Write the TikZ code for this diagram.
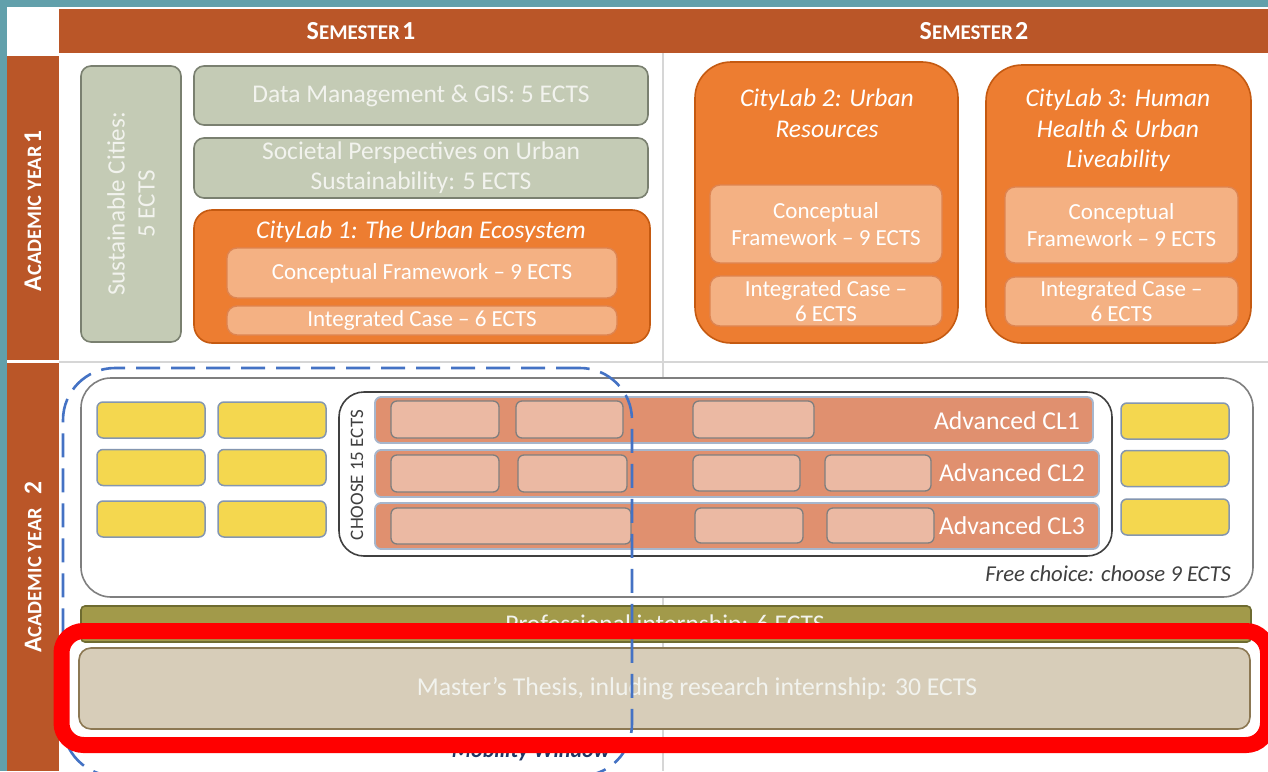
\documentclass[tikz,border=0pt]{standalone}
\usepackage{fontspec}
\setmainfont{Carlito}
\definecolor{tealbg}{HTML}{62A0AB}
\definecolor{hdr}{HTML}{BA5628}
\definecolor{sageF}{HTML}{C4CBB5}
\definecolor{sageD}{HTML}{7A8070}
\definecolor{sageT}{HTML}{F2F3EE}
\definecolor{orF}{HTML}{ED7D31}
\definecolor{orD}{HTML}{C55A11}
\definecolor{ltF}{HTML}{F4B183}
\definecolor{ltD}{HTML}{DE8450}
\definecolor{rowF}{HTML}{E0906F}
\definecolor{rowD}{HTML}{A7B6CC}
\definecolor{inF}{HTML}{EBB9A3}
\definecolor{inD}{HTML}{7F7F7F}
\definecolor{yF}{HTML}{F4D74F}
\definecolor{yD}{HTML}{8496B0}
\definecolor{olF}{HTML}{A29A4A}
\definecolor{olD}{HTML}{6E6B30}
\definecolor{thF}{HTML}{D7CDB9}
\definecolor{thD}{HTML}{8C7853}
\definecolor{mob}{HTML}{4472C4}
\definecolor{mobT}{HTML}{1F3864}
\definecolor{gridc}{HTML}{D6D6D6}
\definecolor{darkT}{HTML}{404040}
\newcommand{\myfs}[2]{\fontsize{#1}{#2}\selectfont}
\newcommand{\hdrsc}[2]{{\myfs{26}{28}#1}{\myfs{21}{28}#2}}
\newcommand{\sidesc}[2]{{\myfs{25.5}{28}#1}{\myfs{20.5}{28}#2}}
\tikzset{
  every node/.style={inner sep=0pt, outer sep=0pt},
  sagebox/.style={draw=sageD, fill=sageF, line width=1.6pt, rounded corners=10pt, text=sageT, font=\myfs{25.5}{30}, align=center},
  orbox/.style={draw=orD, fill=orF, line width=1.6pt},
  ttl/.style={text=white, font=\myfs{25.5}{30.5}\itshape, align=center},
  ltbox/.style={draw=ltD, fill=ltF, line width=1.4pt, rounded corners=10pt, text=white, font=\myfs{23}{27}, align=center},
  advrow/.style={draw=rowD, fill=rowF, line width=1.8pt, rounded corners=6pt},
  advin/.style={draw=inD, fill=inF, line width=1.3pt, rounded corners=6pt},
  advlbl/.style={text=white, font=\myfs{25.7}{28}, anchor=east},
  ybox/.style={draw=yD, fill=yF, line width=1.5pt, rounded corners=6pt, minimum width=108pt, minimum height=36pt},
  hdrtxt/.style={text=white, font=\bfseries},
}
\begin{document}
\begin{tikzpicture}[x=1pt,y=-1pt]
\useasboundingbox (0,0) rectangle (1268,771);
\clip (0,0) rectangle (1268,771);
% background
\fill[tealbg] (0,0) rectangle (1268,771);
\fill[white] (7,7) rectangle (1268,771);
% grid lines
\draw[gridc, line width=1.2pt] (59,362) -- (1268,362);
\draw[gridc, line width=1.2pt] (663,53) -- (663,771);
% header and side bars
\node[fill=hdr, minimum width=1209pt, minimum height=44pt] (hdr) at (663.5,31) {};
\node[hdrtxt] (sem1) at (361,31) {\hdrsc{S}{EMESTER} \hdrsc{1}{}};
\node[hdrtxt] (sem2) at (974,31) {\hdrsc{S}{EMESTER} \hdrsc{2}{}};
\node[fill=hdr, minimum width=52pt, minimum height=304pt] (yr1) at (33,208) {};
\node[hdrtxt, rotate=90] (yr1t) at (33,211) {\sidesc{A}{CADEMIC YEAR} \sidesc{1}{}};
\node[fill=hdr, minimum width=52pt, minimum height=408pt] (yr2) at (33,567) {};
\node[hdrtxt, rotate=90] (yr2t) at (33,567) {\sidesc{A}{CADEMIC YEAR}\hspace{14pt}\sidesc{2}{}};

% ---------- Year 1 ----------
\node[sagebox, minimum width=100pt, minimum height=276pt] (sust) at (131,204) {};
\node[text=sageT, font=\myfs{25}{30}, align=center, rotate=90] (sustt) at (131,204) {Sustainable Cities:\\5 ECTS};
\node[sagebox, minimum width=454pt, minimum height=59pt] (data) at (421,95.5) {Data Management \& GIS: 5 ECTS};
\node[sagebox, minimum width=454pt, minimum height=60pt] (soc) at (421,168) {Societal Perspectives on Urban\\Sustainability: 5 ECTS};

\node[orbox, rounded corners=18pt, minimum width=456pt, minimum height=133pt] (cl1) at (422,276.5) {};
\node[ttl] (cl1t) at (421,232) {CityLab 1: The Urban Ecosystem};
\node[ltbox, minimum width=390pt, minimum height=50pt] (cl1cf) at (422,273) {Conceptual Framework -- 9 ECTS};
\node[ltbox, minimum width=390pt, minimum height=29pt] (cl1ic) at (422,320.5) {Integrated Case -- 6 ECTS};

\node[orbox, rounded corners=36pt, minimum width=263pt, minimum height=281pt] (cl2) at (826.5,202.5) {};
\node[ttl] (cl2t) at (827,113) {CityLab 2: Urban\\Resources};
\node[ltbox, minimum width=232pt, minimum height=78pt] (cl2cf) at (826,224) {Conceptual\\Framework -- 9 ECTS};
\node[ltbox, minimum width=232pt, minimum height=50pt, font=\myfs{23}{25}] (cl2ic) at (826,301) {Integrated Case --\\6 ECTS};

\node[orbox, rounded corners=36pt, minimum width=265pt, minimum height=278pt] (cl3) at (1118.5,204) {};
\node[ttl] (cl3t) at (1118,130.5) {CityLab 3: Human\\Health \& Urban\\Liveability};
\node[ltbox, minimum width=233pt, minimum height=76pt] (cl3cf) at (1121.5,225) {Conceptual\\Framework -- 9 ECTS};
\node[ltbox, minimum width=233pt, minimum height=49pt, font=\myfs{23}{25}] (cl3ic) at (1121.5,301.5) {Integrated Case --\\6 ECTS};

% ---------- Year 2 ----------
\node[draw=inD, fill=white, line width=1.6pt, rounded corners=30pt, minimum width=1172pt, minimum height=219pt] (free) at (667,487.5) {};
\node[text=darkT, font=\myfs{22.7}{24}\itshape, anchor=east] (freet) at (1231,574) {Free choice: choose 9 ECTS};

\node[ybox] (y11) at (151,420) {};
\node[ybox] (y12) at (272,420) {};
\node[ybox] (y21) at (151,467.5) {};
\node[ybox] (y22) at (272,467.5) {};
\node[ybox] (y31) at (151,519) {};
\node[ybox] (y32) at (272,519) {};
\node[ybox] (y13) at (1175,421) {};
\node[ybox] (y23) at (1175,468.5) {};
\node[ybox] (y33) at (1175,517) {};

\node[draw=darkT, fill=white, line width=1.6pt, rounded corners=25pt, minimum width=773pt, minimum height=164pt] (choose) at (725.5,474) {};
\node[text=darkT, font=\myfs{19}{22}, rotate=90] (chooset) at (357,475) {CHOOSE 15 ECTS};

\node[advrow, minimum width=718pt, minimum height=46pt] (r1) at (734,420) {};
\node[advrow, minimum width=724pt, minimum height=47pt] (r2) at (737,473.5) {};
\node[advrow, minimum width=724pt, minimum height=46pt] (r3) at (737,526) {};

\node[advin, minimum width=108pt, minimum height=37pt] (r1a) at (445,419.5) {};
\node[advin, minimum width=107pt, minimum height=37pt] (r1b) at (569.5,419.5) {};
\node[advin, minimum width=121pt, minimum height=37pt] (r1c) at (753.5,419.5) {};
\node[advin, minimum width=108pt, minimum height=37pt] (r2a) at (445,473.5) {};
\node[advin, minimum width=109pt, minimum height=37pt] (r2b) at (572.5,473.5) {};
\node[advin, minimum width=107pt, minimum height=36pt] (r2c) at (746.5,473) {};
\node[advin, minimum width=106pt, minimum height=36pt] (r2d) at (878,473) {};
\node[advin, minimum width=240pt, minimum height=36pt] (r3a) at (511,526) {};
\node[advin, minimum width=108pt, minimum height=35pt] (r3b) at (749,525.5) {};
\node[advin, minimum width=107pt, minimum height=35pt] (r3c) at (880.5,525.5) {};

\node[advlbl] (r1t) at (1080,421) {Advanced CL1};
\node[advlbl] (r2t) at (1085,473) {Advanced CL2};
\node[advlbl] (r3t) at (1085,526) {Advanced CL3};

\node[draw=olD, fill=olF, line width=1.6pt, rounded corners=4pt, minimum width=1170pt, minimum height=36pt] (intern) at (666,624) {};
\node[text=sageT, font=\myfs{25.5}{28}, anchor=base] (internt) at (665,632) {Professional internship: 6 ECTS};

\node[draw=thD, fill=thF, line width=1.6pt, rounded corners=12pt, minimum width=1171pt, minimum height=81pt] (thesis) at (664.5,688.5) {};
\node[text=sageT, font=\myfs{25.7}{28}] (thesist) at (697,689) {Master’s Thesis, inluding research internship: 30 ECTS};

% mobility window
\node[text=mobT, font=\myfs{22}{24}\itshape\bfseries, anchor=base east] (mobt) at (610,757) {Mobility Window};
\node[draw=mob, line width=2.6pt, dash pattern=on 24pt off 11pt, rounded corners=52pt, minimum width=569pt, minimum height=408pt] (mobw) at (347.5,572) {};

% red highlight
\draw[red, line width=16pt, rounded corners=22pt] (61.5,631) rectangle (1268,745);
\end{tikzpicture}
\end{document}
